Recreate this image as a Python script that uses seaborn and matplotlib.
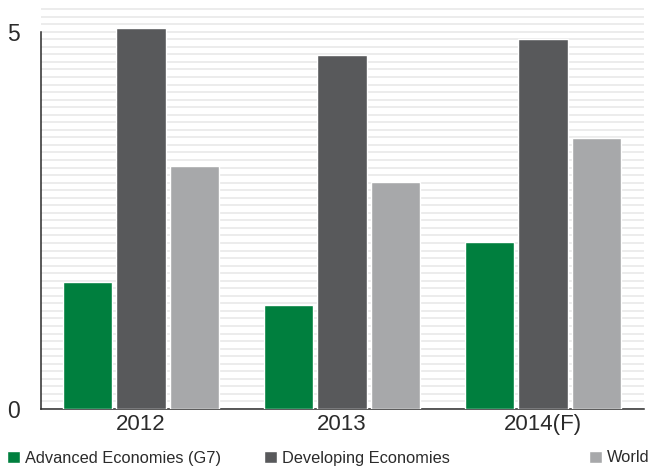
import numpy as np
import pandas as pd
import matplotlib
matplotlib.use("Agg")
import matplotlib.pyplot as plt
import seaborn as sns

years = ["2012", "2013", "2014(F)"]
series = ["Advanced Economies (G7)", "Developing Economies", "World"]
advanced = [1.68, 1.38, 2.21]
developing = [5.05, 4.69, 4.90]
world = [3.22, 3.01, 3.59]
colors = ["#007f3e", "#58595b", "#a7a8aa"]

df = pd.DataFrame({
    "year": years * 3,
    "series": [series[0]] * 3 + [series[1]] * 3 + [series[2]] * 3,
    "value": advanced + developing + world,
})

sns.set_style("white")
plt.rcParams["font.family"] = ["Liberation Sans Narrow", "Liberation Sans", "DejaVu Sans"]
text_color = "#2b2b2b"

fig = plt.figure(figsize=(6.49, 4.68), dpi=100)
ax = fig.add_axes([40.5 / 649, 59 / 468, (643.5 - 40.5) / 649, 1 - 59 / 468])

sns.barplot(data=df, x="year", y="value", hue="series", hue_order=series,
            palette=colors, width=0.795, gap=0.075, errorbar=None,
            saturation=1, ax=ax, zorder=3)

handles = ax.legend_.legend_handles
labels = [t.get_text() for t in ax.legend_.texts]
ax.legend_.remove()

ax.set_xlim(-0.5, 2.5)
ax.set_ylim(0, 5.42)
ax.set_xlabel("")
ax.set_ylabel("")

# y axis: only 0 and 5 labelled, fine horizontal rules every 0.1
ax.set_yticks([0, 5])
ax.set_yticks(np.arange(0.1, 5.35, 0.1), minor=True)
ax.grid(which="both", axis="y", color="#eaeaea", lw=1.3, zorder=0)
ax.set_axisbelow(True)
ax.tick_params(axis="y", which="major", length=10, width=1.1, pad=5,
               labelsize=16.5, colors=text_color)
ax.tick_params(axis="y", which="minor", length=0)

# x axis: category names centred, tick marks at group boundaries
ax.set_xticks([-0.5, 0.5, 1.5, 2.5], minor=True)
ax.tick_params(axis="x", which="major", length=0, pad=3.5,
               labelsize=16, labelcolor=text_color)
ax.tick_params(axis="x", which="minor", length=6, width=1.1, color=text_color)

for side in ["top", "right"]:
    ax.spines[side].set_visible(False)
ax.spines["left"].set_bounds(0, 5)
for side in ["left", "bottom"]:
    ax.spines[side].set_color(text_color)
    ax.spines[side].set_linewidth(1.1)

# one legend entry per series, spread along the bottom edge
legend_x = [7 / 649, 264 / 649, 589 / 649]
for h, lab, x in zip(handles, labels, legend_x):
    fig.legend([h], [lab], loc="center left", bbox_to_anchor=(x, 10 / 468),
               frameon=False, borderpad=0, borderaxespad=0,
               handlelength=0.8, handleheight=0.8, handletextpad=0.3,
               prop={"size": 11.8}, labelcolor=text_color)

fig.savefig("out.png", dpi=100)
